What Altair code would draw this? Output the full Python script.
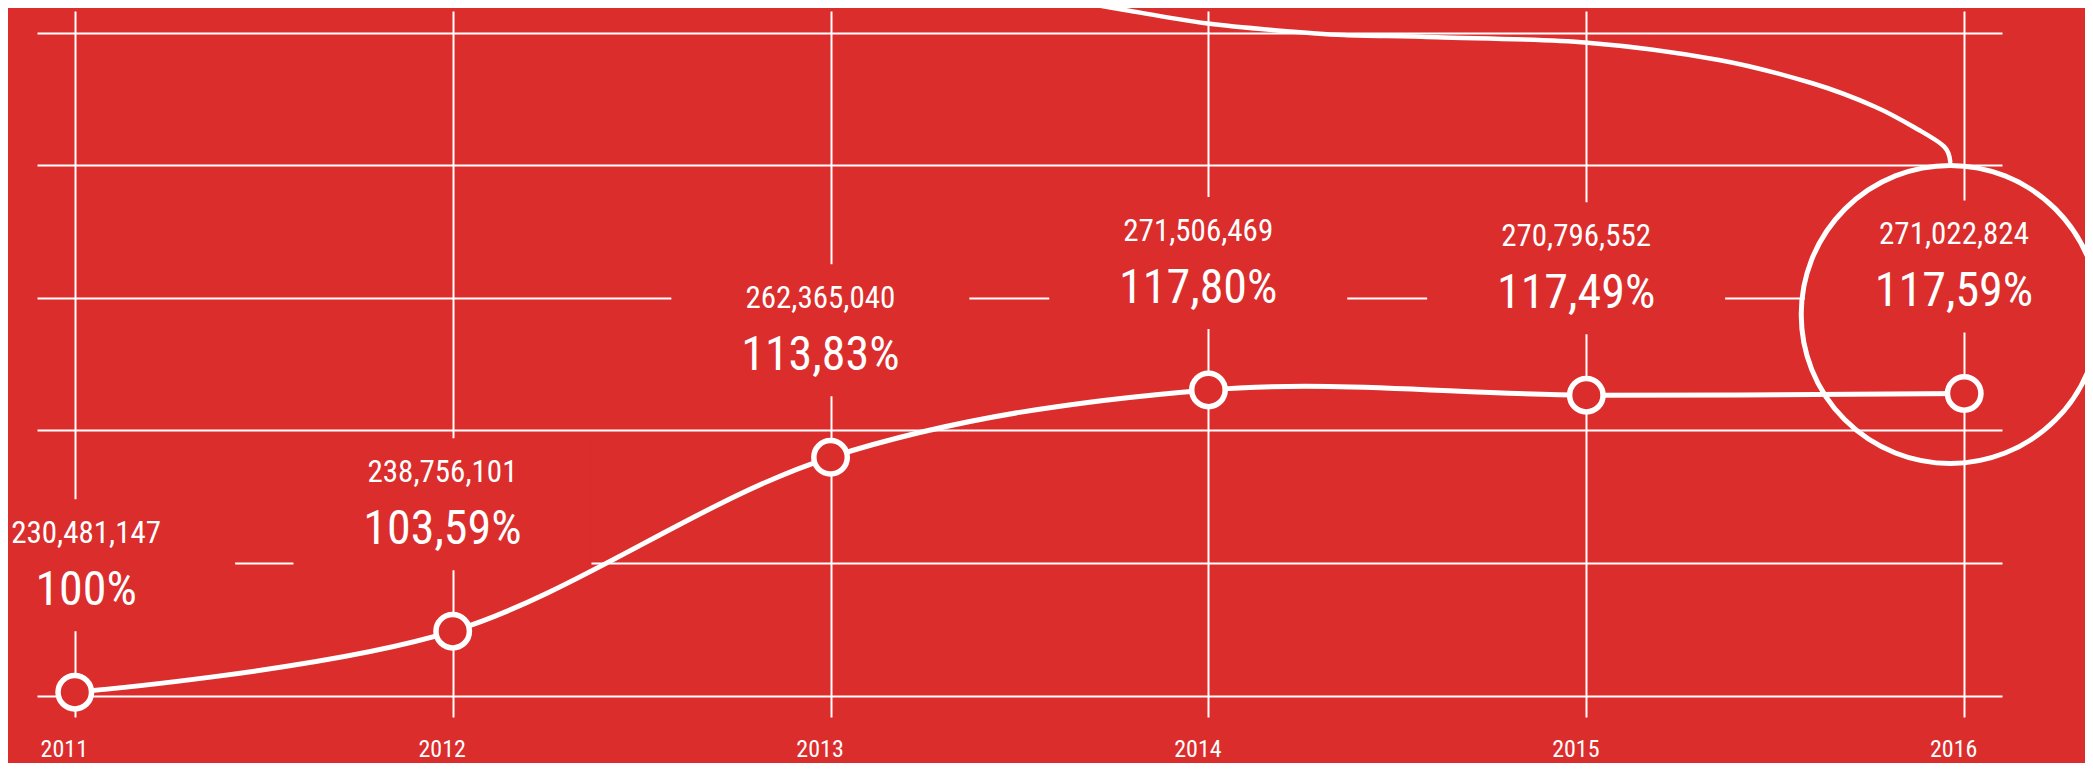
import altair as alt
import pandas as pd

# ---- data ----
years = [2011, 2012, 2013, 2014, 2015, 2016]
totals = [230481147, 238756101, 262365040, 271506469, 270796552, 271022824]
pct_labels = ["100%", "103,59%", "113,83%", "117,80%", "117,49%", "117,59%"]

# decorative connector curve entering the highlight circle (data units)
conn_years = [2013.630, 2013.779, 2013.993, 2014.191, 2014.358, 2014.606,
              2015.003, 2015.351, 2015.598, 2015.764, 2015.880, 2015.947, 2015.963]
conn_values = [324.43e6, 323.07e6, 321.27e6, 320.27e6, 319.69e6, 319.37e6,
               318.64e6, 316.30e6, 313.13e6, 309.95e6, 306.79e6, 304.52e6, 302.48e6]

grid_values = [230e6, 248e6, 266e6, 284e6, 302e6, 320e6]
highlight_year = 2016

RED = "#DC2D2D"
FONT = ("Noto Sans ExtraCondensed, Noto Sans Condensed, Roboto Condensed, "
        "Open Sans Condensed, Liberation Sans Narrow, DejaVu Sans Condensed, sans-serif")

df = pd.DataFrame({"year": years, "total": totals, "pct": pct_labels})
df["num"] = [f"{v:,}" for v in totals]
conn = pd.DataFrame({"year": conn_years, "total": conn_values,
                     "order": list(range(len(conn_years)))})

xs = alt.Scale(domain=[2010.9, 2016.1], nice=False, zero=False)
ys = alt.Scale(domain=[227.11e6, 322.94e6], nice=False, zero=False)

x_axis = alt.Axis(values=years, format="d", grid=True, gridColor="white",
                  gridWidth=2, gridOpacity=1, domain=False, ticks=False,
                  labelColor="white", labelFont=FONT, labelFontSize=24,
                  labelPadding=20, labelOffset=-11, title=None)
y_axis = alt.Axis(values=grid_values, grid=True, gridColor="white",
                  gridWidth=2, gridOpacity=1, domain=False, ticks=False,
                  labels=False, title=None)

X = alt.X("year:Q", scale=xs, axis=x_axis)
Y = alt.Y("total:Q", scale=ys, axis=y_axis)
# label blocks sit slightly left of their year line, but never past the left edge
XL = alt.X("lx:Q", scale=xs, axis=x_axis)

base = alt.Chart(df).encode(x=X, y=Y)
lbl = alt.Chart(df).transform_calculate(
    lx="max(datum.year - 0.027, 2011.03)"
).encode(x=XL, y=Y)

masks = lbl.mark_point(
    shape="M-1,-0.443H1V0.443H-1Z", filled=True, fill=RED, stroke=RED,
    strokeWidth=0, opacity=1, size=298 * 298, yOffset=-127,
)

connector = alt.Chart(conn).mark_line(
    interpolate="cardinal", color="white", strokeWidth=4.5, strokeCap="round"
).encode(x=X, y=Y, order="order:Q")

line = base.mark_line(
    interpolate="cardinal", color="white", strokeWidth=5, strokeCap="round"
)

big_circle = base.transform_filter(alt.datum.year == highlight_year).mark_point(
    shape="circle", filled=False, stroke="white", strokeWidth=5, opacity=1,
    size=298 * 298, xOffset=-14, yOffset=-79,
)

dots = base.mark_point(
    shape="circle", filled=True, fill=RED, stroke="white", strokeWidth=5.5,
    opacity=1, size=1120,
)

num_text = lbl.mark_text(
    font=FONT, fontSize=31, color="white", align="center", baseline="middle",
    dy=-158,
).encode(text="num:N")

pct_text = lbl.mark_text(
    font=FONT, fontSize=48, color="white", align="center", baseline="middle",
    dy=-101,
).encode(text="pct:N")

chart = alt.layer(
    masks, connector, line, big_circle, dots, num_text, pct_text
).properties(
    width=1965, height=706, background=RED,
    padding={"left": 29, "top": 3, "right": 83, "bottom": 46},
    autosize=alt.AutoSizeParams(type="none"),
).configure_view(stroke=None)

chart.save("out.html", embed_options={"renderer": "svg", "actions": False})
